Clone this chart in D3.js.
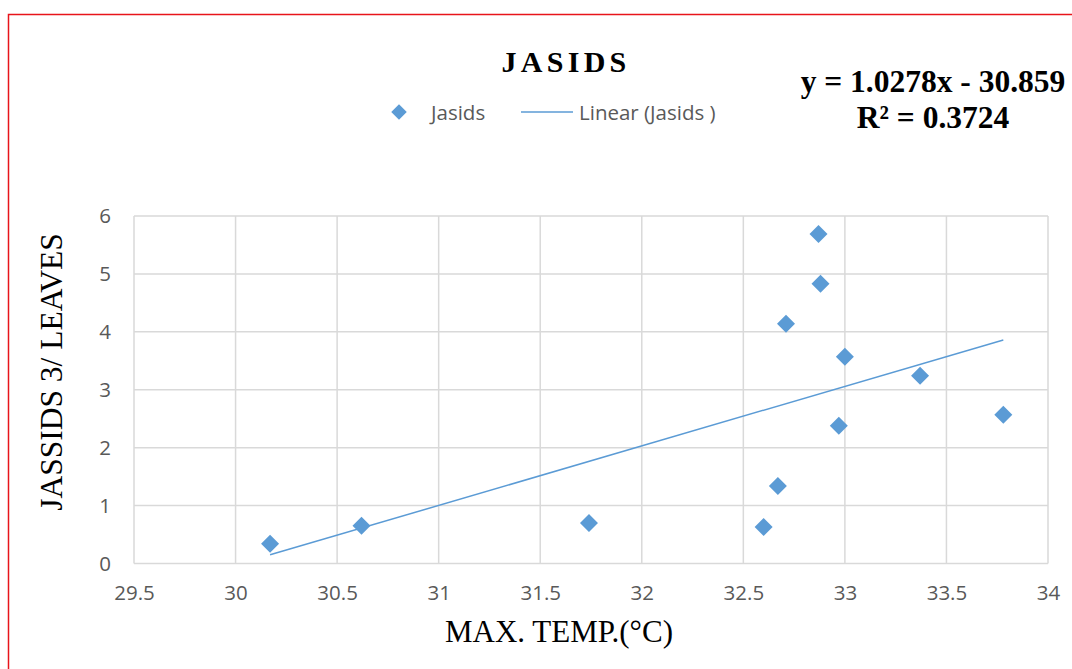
<!DOCTYPE html>
<html lang="en">

<head>
    <title>Jasids vs max temperature</title>
    <meta charset="utf-8">
    <script src="https://d3js.org/d3.v7.min.js"></script>
    <style>
        body {
            margin: 0;
            background: #fff;
        }
    </style>
</head>

<body>
    <div id="container1"></div>
    <script>
        // Data
        const maxTemp = [30.17, 30.62, 31.74, 32.60, 32.67, 32.71, 32.87, 32.88, 33.00, 32.97, 33.37, 33.78];
        const jasids = [0.34, 0.65, 0.70, 0.63, 1.34, 4.14, 5.69, 4.83, 3.57, 2.38, 3.24, 2.57];
        const xTicks = [29.5, 30, 30.5, 31, 31.5, 32, 32.5, 33, 33.5, 34];
        const yTicks = [0, 1, 2, 3, 4, 5, 6];
        const slope = 1.0278;
        const intercept = -30.859;
        const rSquared = 0.3724;

        // Chart dimensions
        const width = 1072;
        const height = 669;
        const plot = { left: 134, right: 1048, top: 216, bottom: 563.5 };

        const blue = "#5b9bd5";
        const gray = "#595959";

        const svg = d3.select("#container1")
            .append("svg")
            .attr("width", width)
            .attr("height", height);

        // Red frame (only top and left edge are visible in the crop)
        svg.append("path")
            .attr("d", `M8.5,${height} L8.5,14.5 L${width},14.5`)
            .attr("fill", "none")
            .attr("stroke", "#e8141b")
            .attr("stroke-width", 1.5);

        // Scales
        const x = d3.scaleLinear().domain([29.5, 34]).range([plot.left, plot.right]);
        const y = d3.scaleLinear().domain([0, 6]).range([plot.bottom, plot.top]);

        // Gridlines
        svg.append("g")
            .selectAll("line")
            .data(xTicks)
            .enter().append("line")
            .attr("x1", d => x(d))
            .attr("x2", d => x(d))
            .attr("y1", plot.top)
            .attr("y2", plot.bottom)
            .attr("stroke", "#d9d9d9")
            .attr("stroke-width", 1.5);

        svg.append("g")
            .selectAll("line")
            .data(yTicks)
            .enter().append("line")
            .attr("x1", plot.left)
            .attr("x2", plot.right)
            .attr("y1", d => y(d))
            .attr("y2", d => y(d))
            .attr("stroke", "#d9d9d9")
            .attr("stroke-width", 1.5);

        // Axes (labels only, Excel style)
        const xAxis = svg.append("g")
            .attr("transform", `translate(0,${plot.bottom})`)
            .call(d3.axisBottom(x).tickValues(xTicks).tickSize(0).tickPadding(22).tickFormat(d3.format("")));

        const yAxis = svg.append("g")
            .attr("transform", `translate(${plot.left},0)`)
            .call(d3.axisLeft(y).tickValues(yTicks).tickSize(0).tickPadding(23).tickFormat(d3.format("")));

        [xAxis, yAxis].forEach(a => {
            a.select(".domain").remove();
            a.selectAll("text")
                .attr("fill", gray)
                .attr("font-family", "'Open Sans', sans-serif")
                .attr("font-size", 20.5);
        });

        // Trendline from the fitted equation
        const xExtent = d3.extent(maxTemp);
        svg.append("path")
            .datum(xExtent)
            .attr("d", d3.line().x(d => x(d)).y(d => y(slope * d + intercept)))
            .attr("fill", "none")
            .attr("stroke", blue)
            .attr("stroke-width", 1.5);

        // Points
        const diamond = d3.symbol().type(d3.symbolSquare).size(162);
        svg.append("g")
            .selectAll("path")
            .data(maxTemp.map((t, i) => [t, jasids[i]]))
            .enter().append("path")
            .attr("d", diamond)
            .attr("transform", d => `translate(${x(d[0])},${y(d[1])}) rotate(45)`)
            .attr("fill", blue);

        // Title
        svg.append("text")
            .attr("x", 566)
            .attr("y", 72)
            .attr("text-anchor", "middle")
            .attr("font-family", "'Liberation Serif', 'Times New Roman', serif")
            .attr("font-weight", "bold")
            .attr("font-size", 30)
            .attr("letter-spacing", 4.3)
            .text("JASIDS");

        // Legend
        svg.append("path")
            .attr("d", d3.symbol().type(d3.symbolSquare).size(120))
            .attr("transform", "translate(399,112) rotate(45)")
            .attr("fill", blue);

        svg.append("text")
            .attr("x", 431)
            .attr("y", 119.5)
            .attr("fill", gray)
            .attr("font-family", "'Open Sans', sans-serif")
            .attr("font-size", 20.5)
            .text("Jasids");

        svg.append("line")
            .attr("x1", 521)
            .attr("x2", 573)
            .attr("y1", 112)
            .attr("y2", 112)
            .attr("stroke", blue)
            .attr("stroke-width", 1.5);

        svg.append("text")
            .attr("x", 579)
            .attr("y", 119.5)
            .attr("fill", gray)
            .attr("font-family", "'Open Sans', sans-serif")
            .attr("font-size", 20.5)
            .text("Linear (Jasids )");

        // Equation
        const eq = svg.append("text")
            .attr("text-anchor", "middle")
            .attr("font-family", "'Liberation Serif', 'Times New Roman', serif")
            .attr("font-weight", "bold")
            .attr("font-size", 31.5);

        eq.append("tspan")
            .attr("x", 933)
            .attr("y", 92)
            .text(`y = ${slope}x - ${Math.abs(intercept)}`);

        eq.append("tspan")
            .attr("x", 933)
            .attr("y", 128)
            .text(`R² = ${rSquared}`);

        // Axis titles
        svg.append("text")
            .attr("x", 559)
            .attr("y", 642)
            .attr("text-anchor", "middle")
            .attr("font-family", "'Liberation Serif', 'Times New Roman', serif")
            .attr("font-size", 31)
            .text("MAX. TEMP.(°C)");

        svg.append("text")
            .attr("transform", "translate(62,372) rotate(-90)")
            .attr("text-anchor", "middle")
            .attr("font-family", "'Liberation Serif', 'Times New Roman', serif")
            .attr("font-size", 31.5)
            .text("JASSIDS 3/ LEAVES");
    </script>
</body>

</html>
